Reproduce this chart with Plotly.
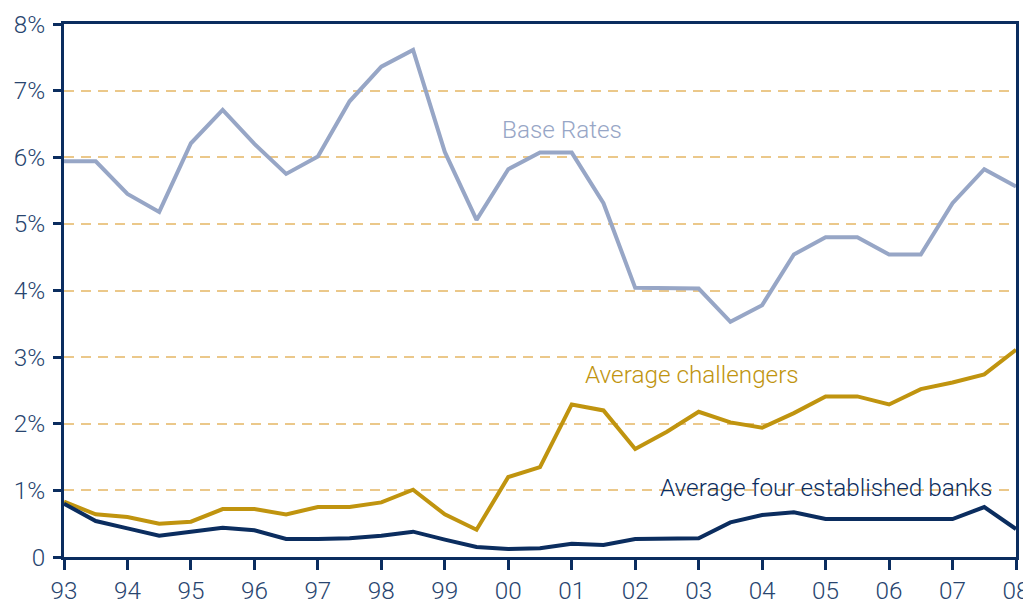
import plotly.graph_objects as go

periods = [1993.0, 1993.5, 1994.0, 1994.5, 1995.0, 1995.5, 1996.0, 1996.5,
           1997.0, 1997.5, 1998.0, 1998.5, 1999.0, 1999.5, 2000.0, 2000.5,
           2001.0, 2001.5, 2002.0, 2002.5, 2003.0, 2003.5, 2004.0, 2004.5,
           2005.0, 2005.5, 2006.0, 2006.5, 2007.0, 2007.5, 2008.0]

base_rates = [5.94, 5.94, 5.45, 5.18, 6.21, 6.71, 6.20, 5.75,
              6.01, 6.84, 7.36, 7.61, 6.08, 5.06, 5.82, 6.07,
              6.07, 5.31, 4.04, 4.03, 4.03, 3.53, 3.78, 4.54,
              4.80, 4.80, 4.54, 4.54, 5.31, 5.82, 5.56]

challengers = [0.83, 0.64, 0.60, 0.50, 0.53, 0.72, 0.72, 0.64,
               0.75, 0.75, 0.82, 1.01, 0.64, 0.41, 1.20, 1.35,
               2.29, 2.20, 1.62, 1.88, 2.18, 2.02, 1.94, 2.16,
               2.41, 2.41, 2.29, 2.52, 2.62, 2.74, 3.11]

established = [0.80, 0.54, 0.43, 0.32, 0.38, 0.44, 0.40, 0.27,
               0.27, 0.28, 0.32, 0.38, 0.26, 0.15, 0.12, 0.13,
               0.20, 0.18, 0.27, 0.28, 0.28, 0.52, 0.63, 0.67,
               0.57, 0.57, 0.57, 0.57, 0.57, 0.75, 0.42]

x_tickvals = [1993, 1994, 1995, 1996, 1997, 1998, 1999, 2000,
              2001, 2002, 2003, 2004, 2005, 2006, 2007, 2008]
x_ticktext = ["93", "94", "95", "96", "97", "98", "99", "00",
              "01", "02", "03", "04", "05", "06", "07", "08"]
y_tickvals = [0, 1, 2, 3, 4, 5, 6, 7, 8]
y_ticktext = ["0", "1%", "2%", "3%", "4%", "5%", "6%", "7%", "8%"]

C_BASE = "#97a6c6"
C_CHAL = "#c0940f"
C_EST = "#0b2d5f"
C_AXIS = "#0b2d5f"
C_TEXT = "#28456f"
C_GRID = "#ebc88a"
FONT = "Roboto"
FW = 300
FS = 24.3

fig = go.Figure()
fig.add_trace(go.Scatter(x=periods, y=base_rates, mode="lines",
                         line=dict(color=C_BASE, width=4), name="Base Rates"))
fig.add_trace(go.Scatter(x=periods, y=challengers, mode="lines",
                         line=dict(color=C_CHAL, width=4), name="Average challengers"))
fig.add_trace(go.Scatter(x=periods, y=established, mode="lines",
                         line=dict(color=C_EST, width=4), name="Average four established banks"))

fig.add_annotation(x=2000.84, y=6.41, text="Base Rates", showarrow=False,
                   font=dict(family=FONT, size=FS, color=C_BASE, weight=FW))
fig.add_annotation(x=2002.9, y=2.74, text="Average challengers", showarrow=False,
                   font=dict(family=FONT, size=FS, color=C_CHAL, weight=FW))
fig.add_annotation(x=2005.0, y=1.04, text="Average four established banks", showarrow=False,
                   font=dict(family=FONT, size=FS, color=C_EST, weight=FW))

# page body has an 8px default margin, so the figure is sized to fit the window
fig.update_layout(
    width=1023, height=595,
    margin=dict(l=56, r=15, t=16, b=46),
    paper_bgcolor="white", plot_bgcolor="white",
    showlegend=False,
    font=dict(family=FONT, size=FS, color=C_TEXT, weight=FW),
)
fig.update_xaxes(
    range=[1993, 2008], tickvals=x_tickvals, ticktext=x_ticktext,
    showgrid=False, zeroline=False, automargin=False,
    showline=True, linecolor=C_AXIS, linewidth=3, mirror=True,
    ticks="outside", ticklen=10, tickwidth=3, tickcolor=C_AXIS,
    tickfont=dict(family=FONT, size=FS, color=C_TEXT, weight=FW),
)
fig.update_yaxes(
    range=[0, 8], tickvals=y_tickvals, ticktext=y_ticktext,
    showgrid=True, gridcolor=C_GRID, gridwidth=1.5, griddash="10px,7px",
    zeroline=False, automargin=False,
    showline=True, linecolor=C_AXIS, linewidth=3, mirror=True,
    ticks="outside", ticklen=8, tickwidth=3, tickcolor=C_AXIS,
    ticklabelstandoff=3,
    tickfont=dict(family=FONT, size=FS, color=C_TEXT, weight=FW),
)

fig.write_html("out.html")
